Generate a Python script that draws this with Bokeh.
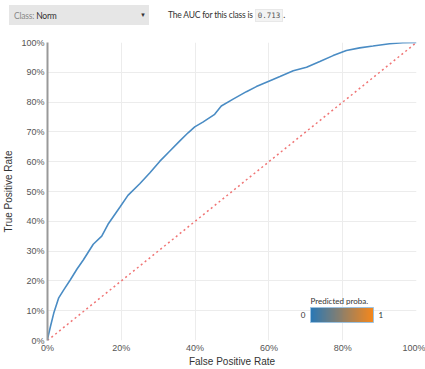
from bokeh.plotting import figure
from bokeh.layouts import column
from bokeh.models import (ColorBar, LinearColorMapper, FixedTicker, PrintfTickFormatter, Range1d,
                          Label, Div)
from bokeh.embed import file_html
from bokeh.resources import INLINE

# ROC curve (percent)
fpr = [0, 0.1, 0.8, 1.7, 3.0, 4.4, 6.2, 8.0, 9.7, 12.4, 14.7, 16.4, 19.6, 21.8, 25.0, 27.7,
       30.4, 33.1, 35.8, 38.1, 39.9, 42.1, 45.3, 47.1, 50.3, 53.9, 56.6, 60.3, 63.0, 66.6,
       70.2, 73.8, 77.4, 81.0, 84.6, 88.2, 92.7, 96.3, 100]
tpr = [0, 1.0, 4.7, 9.2, 14.2, 17.0, 20.4, 24.0, 27.0, 32.3, 35.0, 39.0, 44.7, 48.7, 52.6, 56.2,
       60.1, 63.5, 66.9, 69.7, 71.7, 73.3, 75.9, 78.7, 81.0, 83.5, 85.2, 87.2, 88.6, 90.5,
       91.7, 93.6, 95.6, 97.3, 98.2, 98.8, 99.6, 99.9, 100]
chance = [0, 100]
x_ticks = [0, 20, 40, 60, 80, 100]
y_ticks = [0, 10, 20, 30, 40, 50, 60, 70, 80, 90, 100]
class_name = "Norm"
auc = "0.713"
proba_lo, proba_hi = 0, 1

W = 425
HH = 30   # header height
MH = 339  # main figure height

# ---------------- header (select box + AUC sentence) ----------------
header_html = (
    '<div style="position:relative;width:%dpx;height:%dpx;font-family:Lato,sans-serif;'
    'font-size:8.5px;letter-spacing:-0.2px;color:#333;">'
    '<div style="position:absolute;left:9px;top:5px;width:140px;height:20px;background:#e6e6e6;">'
    '<span style="position:absolute;left:5px;top:5px;"><span style="color:#888;">Class:</span> '
    '%s</span>'
    '<span style="position:absolute;left:131px;top:6px;font-size:6px;">&#9660;</span></div>'
    '<div style="position:absolute;left:168px;top:9px;white-space:nowrap;">'
    'The AUC for this class is '
    '<span style="font-family:\'DejaVu Sans Mono\',monospace;font-size:7.5px;letter-spacing:0;'
    'color:#555;background:#f3f3f3;border:1px solid #e8e8e8;padding:1px 2px;">%s</span>.</div>'
    '</div>' % (W, HH, class_name, auc)
)
hdr = Div(text=header_html, width=W, height=HH, margin=(0, 0, 0, 0))

# ---------------- main ROC plot ----------------
p = figure(width=W, height=MH, output_backend="svg", toolbar_location=None,
           x_range=Range1d(0, 100), y_range=Range1d(0, 100),
           min_border_left=47, min_border_right=9, min_border_top=12, min_border_bottom=10)
p.outline_line_color = None

p.line(chance, chance, line_color="#f07575", line_width=1.5, line_dash="2 3")
p.line(fpr, tpr, line_color="#4a8cc4", line_width=1.6)

tick_font = "Liberation Sans"
for ax, ticks in ((p.xaxis[0], x_ticks), (p.yaxis[0], y_ticks)):
    ax.ticker = FixedTicker(ticks=ticks)
    ax.formatter = PrintfTickFormatter(format="%d%%")
    ax.major_tick_line_color = None
    ax.minor_tick_line_color = None
    ax.major_tick_out = 0
    ax.major_tick_in = 0
    ax.minor_tick_out = 0
    ax.major_label_text_font = tick_font
    ax.major_label_text_font_size = "9px"
    ax.major_label_text_color = "#555555"
    ax.axis_label_text_font = tick_font
    ax.axis_label_text_font_size = "10px"
    ax.axis_label_text_font_style = "normal"
    ax.axis_label_text_color = "#333333"

p.xaxis.axis_label = "False Positive Rate"
p.yaxis.axis_label = "True Positive Rate"
p.xaxis.axis_line_color = None
p.yaxis.axis_line_color = "#999999"
p.yaxis.axis_line_width = 2
p.xaxis.major_label_standoff = 2
p.xaxis.axis_label_standoff = 0
p.yaxis.major_label_standoff = 3
p.yaxis.axis_label_standoff = 4

p.xgrid.ticker = FixedTicker(ticks=x_ticks)
p.ygrid.ticker = FixedTicker(ticks=y_ticks)
p.xgrid.grid_line_color = "#ececec"
p.ygrid.grid_line_color = "#ececec"

# colour legend
palette = []
c0, c1 = (0x2a, 0x78, 0xb5), (0xf5, 0x87, 0x1c)
for i in range(64):
    t = i / 63
    palette.append("#%02x%02x%02x" % tuple(int(round(a + (b - a) * t)) for a, b in zip(c0, c1)))
mapper = LinearColorMapper(palette=palette, low=proba_lo, high=proba_hi)
cb = ColorBar(color_mapper=mapper, orientation="horizontal", width=63, height=15,
              location=(263, 18), padding=0, ticker=FixedTicker(ticks=[]),
              title="Predicted proba.", title_text_font="Lato", title_text_font_size="8px",
              title_text_font_style="normal", title_text_color="#333333", title_standoff=3,
              background_fill_alpha=0, border_line_color=None, bar_line_color="#9cc2e0",
              major_label_text_font_size="0px")
p.add_layout(cb)
for v, xo, al in ((proba_lo, -5, "right"), (proba_hi, 5, "left")):
    p.add_layout(Label(x=263 + (63 if v == proba_hi else 0) + xo, y=25.5, x_units="screen",
                       y_units="screen", text=str(v), text_align=al, text_baseline="middle",
                       text_font="Lato", text_font_size="8px", text_color="#333333"))

layout = column(hdr, p, spacing=0)
open("out.html", "w").write(file_html(layout, INLINE))
